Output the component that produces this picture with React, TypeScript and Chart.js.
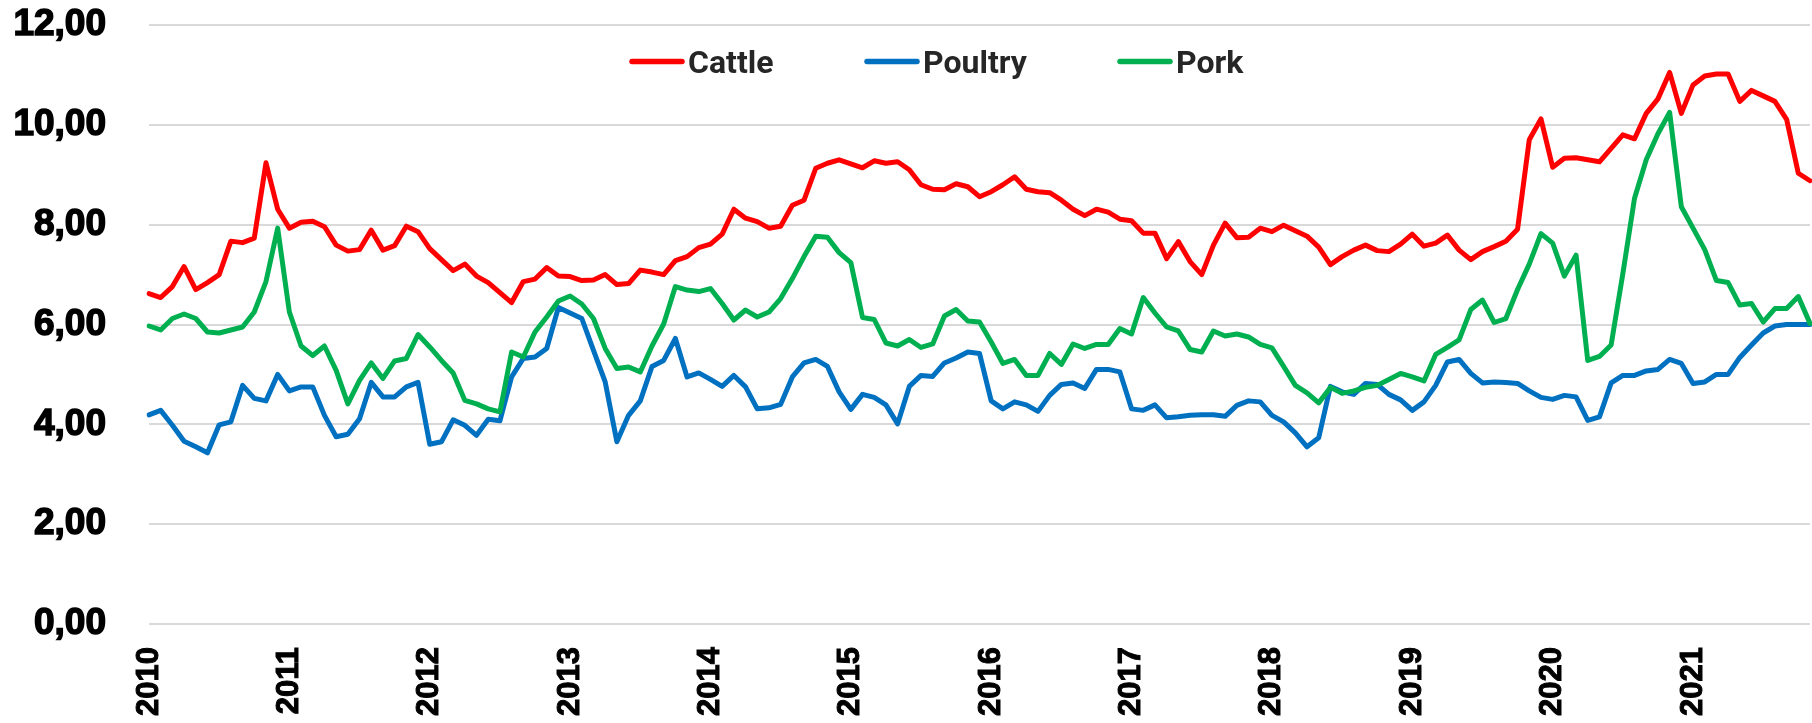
import React, { useEffect, useRef } from "react";
import { Chart, registerables } from "chart.js";

Chart.register(...registerables);

const years = [2010, 2011, 2012, 2013, 2014, 2015, 2016, 2017, 2018, 2019, 2020, 2021];
const monthCodes = ["01", "02", "03", "04", "05", "06", "07", "08", "09", "10", "11", "12"];
const yTicks = [0, 2, 4, 6, 8, 10, 12];

const cattle = [
  6.62, 6.54, 6.76, 7.16, 6.70, 6.84, 7.00, 7.67, 7.64, 7.73, 9.24, 8.31,
  7.93, 8.05, 8.07, 7.96, 7.59, 7.47, 7.50, 7.89, 7.49, 7.58, 7.97, 7.86,
  7.52, 7.30, 7.08, 7.21, 6.97, 6.84, 6.64, 6.44, 6.86, 6.91, 7.14, 6.97,
  6.96, 6.88, 6.89, 7.00, 6.80, 6.82, 7.09, 7.05, 7.00, 7.28, 7.36, 7.54,
  7.61, 7.81, 8.31, 8.13, 8.06, 7.93, 7.97, 8.39, 8.49, 9.13, 9.23, 9.30,
  9.22, 9.14, 9.28, 9.23, 9.26, 9.10, 8.80, 8.71, 8.70, 8.82, 8.76, 8.56,
  8.66, 8.80, 8.96, 8.71, 8.66, 8.64, 8.49, 8.31, 8.18, 8.31, 8.25, 8.11,
  8.08, 7.83, 7.83, 7.32, 7.66, 7.26, 7.00, 7.59, 8.03, 7.74, 7.75, 7.93,
  7.86, 7.99, 7.88, 7.77, 7.55, 7.20, 7.36, 7.49, 7.59, 7.48, 7.46, 7.61,
  7.81, 7.57, 7.63, 7.79, 7.49, 7.30, 7.46, 7.56, 7.67, 7.91, 9.70, 10.12,
  9.15, 9.33, 9.34, 9.30, 9.26, 9.53, 9.80, 9.72, 10.23, 10.52, 11.05, 10.23,
  10.80, 10.98, 11.02, 11.02, 10.47, 10.69, 10.58, 10.47, 10.11, 9.03, 8.88,
];

const poultry = [
  4.19, 4.28, 3.98, 3.66, 3.55, 3.43, 3.99, 4.05, 4.78, 4.52, 4.47, 5.00,
  4.67, 4.75, 4.75, 4.18, 3.75, 3.80, 4.11, 4.84, 4.55, 4.55, 4.75, 4.84,
  3.60, 3.65, 4.09, 3.98, 3.78, 4.10, 4.07, 4.95, 5.32, 5.35, 5.52, 6.34,
  6.23, 6.12, 5.48, 4.85, 3.65, 4.18, 4.47, 5.16, 5.28, 5.72, 4.95, 5.03,
  4.90, 4.76, 4.98, 4.75, 4.31, 4.33, 4.40, 4.95, 5.23, 5.30, 5.16, 4.65,
  4.30, 4.60, 4.54, 4.39, 4.01, 4.76, 4.98, 4.96, 5.23, 5.33, 5.45, 5.42,
  4.47, 4.31, 4.45, 4.39, 4.26, 4.58, 4.80, 4.83, 4.72, 5.10, 5.10, 5.05,
  4.31, 4.28, 4.39, 4.13, 4.15, 4.18, 4.19, 4.19, 4.16, 4.38, 4.47, 4.45,
  4.18, 4.05, 3.83, 3.55, 3.73, 4.76, 4.65, 4.60, 4.82, 4.80, 4.60, 4.49,
  4.28, 4.45, 4.78, 5.25, 5.30, 5.02, 4.83, 4.85, 4.84, 4.82, 4.67, 4.54,
  4.50, 4.58, 4.55, 4.08, 4.15, 4.83, 4.98, 4.98, 5.07, 5.10, 5.30, 5.22,
  4.82, 4.85, 5.00, 5.00, 5.34, 5.59, 5.83, 5.97, 6.00, 6.00, 6.00,
];

const pork = [
  5.97, 5.89, 6.12, 6.21, 6.12, 5.85, 5.83, 5.89, 5.95, 6.25, 6.86, 7.93,
  6.25, 5.57, 5.38, 5.57, 5.08, 4.41, 4.88, 5.23, 4.92, 5.27, 5.32, 5.80,
  5.55, 5.28, 5.03, 4.48, 4.41, 4.31, 4.25, 5.45, 5.35, 5.85, 6.15, 6.47,
  6.57, 6.41, 6.12, 5.52, 5.12, 5.15, 5.05, 5.57, 6.01, 6.76, 6.69, 6.66,
  6.72, 6.42, 6.09, 6.29, 6.15, 6.25, 6.52, 6.92, 7.36, 7.77, 7.75, 7.44,
  7.24, 6.14, 6.10, 5.63, 5.57, 5.70, 5.54, 5.61, 6.17, 6.30, 6.07, 6.05,
  5.65, 5.22, 5.30, 4.98, 4.98, 5.42, 5.20, 5.61, 5.52, 5.60, 5.60, 5.92,
  5.81, 6.54, 6.23, 5.95, 5.87, 5.50, 5.45, 5.87, 5.77, 5.81, 5.75, 5.60,
  5.53, 5.16, 4.78, 4.63, 4.43, 4.74, 4.62, 4.67, 4.74, 4.78, 4.90, 5.02,
  4.95, 4.87, 5.40, 5.54, 5.69, 6.30, 6.49, 6.04, 6.12, 6.70, 7.21, 7.82,
  7.63, 6.97, 7.39, 5.28, 5.36, 5.59, 7.02, 8.53, 9.30, 9.82, 10.25, 8.36,
  7.93, 7.50, 6.88, 6.84, 6.39, 6.42, 6.05, 6.32, 6.32, 6.56, 6.02,
];

const seriesNames = ["Cattle", "Poultry", "Pork"];
const seriesColors = ["#ff0000", "#0070c0", "#00b050"];

const categories = years
  .flatMap((y) => monthCodes.map((m) => `${y}-${m}`))
  .slice(0, cattle.length);

const legendPlugin = {
  id: "customLegend",
  afterDraw(chart: any) {
    const ctx = chart.ctx;
    const starts = [629, 864, 1117];
    const y = 61.5;
    ctx.save();
    chart.data.datasets.forEach((ds: any, i: number) => {
      const x = starts[i];
      ctx.strokeStyle = ds.borderColor;
      ctx.lineWidth = 5.5;
      ctx.lineCap = "round";
      ctx.beginPath();
      ctx.moveTo(x + 3, y);
      ctx.lineTo(x + 53, y);
      ctx.stroke();
      ctx.fillStyle = "#262626";
      ctx.font = "bold 32px Roboto";
      ctx.textBaseline = "alphabetic";
      ctx.textAlign = "left";
      ctx.fillText(ds.label, x + 59, 73);
    });
    ctx.restore();
  },
};

export default function App() {
  const canvasRef = useRef<HTMLCanvasElement | null>(null);

  useEffect(() => {
    const canvas = canvasRef.current;
    if (!canvas) return;
    const data = [cattle, poultry, pork];
    const orders = [0, 2, 1];
    const chart = new Chart(canvas, {
      type: "line",
      data: {
        labels: categories,
        datasets: seriesNames.map((name, i) => ({
          label: name,
          data: data[i],
          borderColor: seriesColors[i],
          backgroundColor: seriesColors[i],
          borderWidth: 5,
          pointRadius: 0,
          pointHoverRadius: 0,
          tension: 0,
          borderJoinStyle: "round" as const,
          borderCapStyle: "round" as const,
          fill: false,
          order: orders[i],
        })),
      },
      options: {
        responsive: false,
        animation: false,
        devicePixelRatio: 1,
        layout: { padding: { top: 25, right: 2, left: 0, bottom: 0 } },
        plugins: {
          legend: { display: false },
          tooltip: { enabled: false },
          title: { display: false },
        },
        scales: {
          x: {
            type: "category",
            offset: false,
            grid: { display: false, drawTicks: false },
            border: { display: false },
            ticks: {
              autoSkip: false,
              maxRotation: 90,
              minRotation: 90,
              padding: 23,
              color: "#000000",
              textStrokeColor: "#000000",
              textStrokeWidth: 1,
              font: { family: "'Liberation Sans', Arial, sans-serif", weight: "bold", size: 31 },
              callback: (_v: any, index: number) =>
                index % 12 === 0 ? String(years[index / 12]) : "",
            },
            afterFit: (scale: any) => {
              scale.height = 99;
              scale.paddingLeft = 0;
              scale.paddingRight = 0;
            },
          },
          y: {
            min: 0,
            max: 12,
            grid: { color: "#d9d9d9", lineWidth: 2, drawTicks: false },
            border: { display: false },
            afterBuildTicks: (scale: any) => {
              scale.ticks = yTicks.map((v) => ({ value: v }));
            },
            ticks: {
              padding: 43,
              color: "#000000",
              textStrokeColor: "#000000",
              textStrokeWidth: 1.5,
              font: { family: "'Liberation Sans', Arial, sans-serif", weight: "bold", size: 37 },
              callback: (v: any) => Number(v).toFixed(2).replace(".", ","),
            },
            afterFit: (scale: any) => {
              scale.width = 149;
              scale.paddingTop = 0;
              scale.paddingBottom = 0;
            },
          },
        },
      },
      plugins: [legendPlugin],
    });
    return () => chart.destroy();
  }, []);

  return (
    <div style={{ position: "fixed", left: 0, top: 0, width: 1812, height: 723, background: "#ffffff" }}>
      <canvas ref={canvasRef} width={1812} height={723} style={{ display: "block" }} />
    </div>
  );
}
